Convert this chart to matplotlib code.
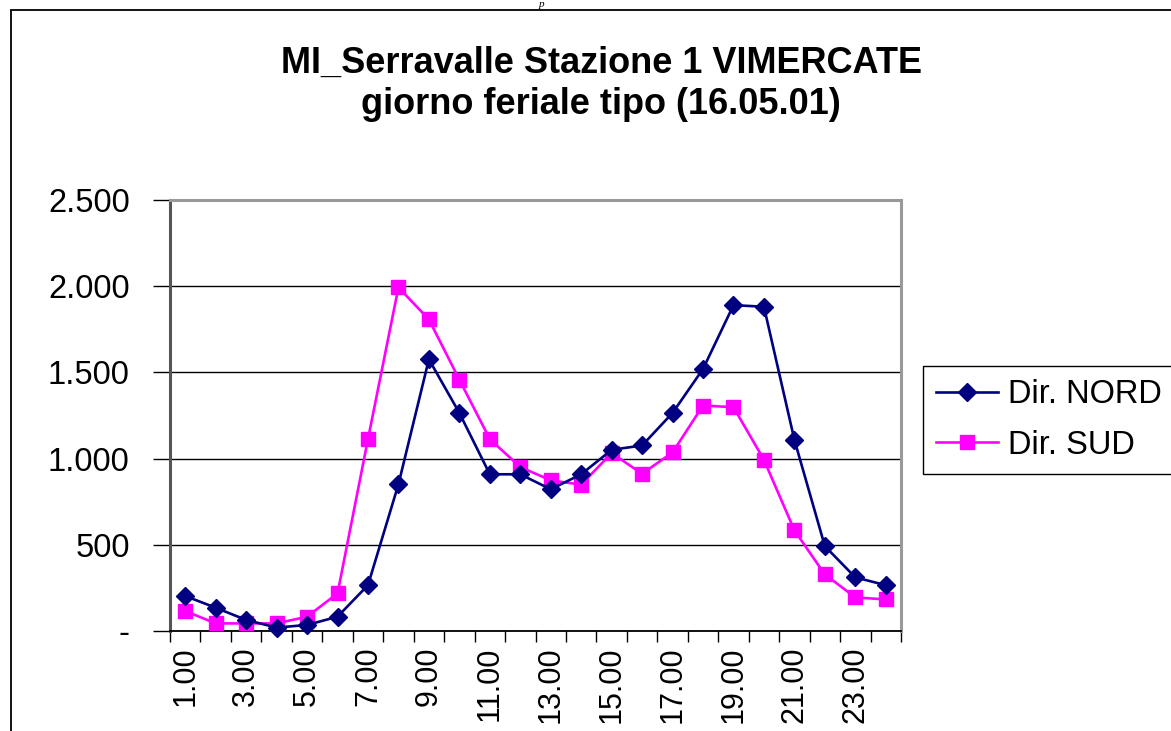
import matplotlib
matplotlib.use("Agg")
import matplotlib.pyplot as plt
from matplotlib.patches import Rectangle
from matplotlib.ticker import FuncFormatter

plt.rcParams["font.family"] = ["Liberation Sans", "DejaVu Sans"]

HOURS = [f"{h}.00" for h in range(1, 25)]
NORD = [203, 135, 64, 20, 35, 83, 266, 851, 1576, 1265, 909, 909,
        822, 909, 1051, 1076, 1265, 1520, 1890, 1881, 1109, 492, 311, 266]
SUD = [116, 44, 44, 44, 83, 218, 1113, 1993, 1807, 1458, 1113, 951,
       874, 849, 1032, 912, 1036, 1308, 1298, 993, 584, 328, 195, 183]
TITLE = "MI_Serravalle Stazione 1 VIMERCATE\ngiorno feriale tipo (16.05.01)"

W, H = 1171, 731
fig = plt.figure(figsize=(W / 100, H / 100), dpi=100)

# outer chart frame (cut off at right and bottom)
fig.patches.append(Rectangle((11 / W, -0.1), 1.2, 1 - 10 / H + 0.1,
                             transform=fig.transFigure, fill=False,
                             edgecolor="black", linewidth=1.3))
fig.text(541 / W, 1.0, "p", style="italic", fontsize=8, ha="center", va="top",
         family=["Liberation Serif", "DejaVu Serif"])

ax = fig.add_axes([170 / W, 1 - 631 / H, (901 - 170) / W, (631 - 200) / H])
x = list(range(len(HOURS)))
ax.plot(x, NORD, color="#000080", linewidth=1.9, marker="D", markersize=9.5,
        label="Dir. NORD", clip_on=False, zorder=4)
ax.plot(x, SUD, color="#FF00FF", linewidth=1.9, marker="s", markersize=10,
        label="Dir. SUD", clip_on=False, zorder=3)

ax.set_xlim(-0.5, len(HOURS) - 0.5)
ax.set_ylim(0, 2500)
ax.set_yticks(range(0, 2501, 500))
ax.yaxis.set_major_formatter(FuncFormatter(
    lambda v, p: "-" if v == 0 else f"{int(v):,}".replace(",", ".")))
ax.grid(axis="y", color="black", linewidth=1.0)
ax.set_axisbelow(True)
ax.tick_params(axis="y", length=12, width=1.0, pad=17, labelsize=23.5, direction="out")

# category boundaries as major ticks, labels on every other category
ax.set_xticks([i - 0.5 for i in range(len(HOURS) + 1)])
ax.set_xticklabels([])
ax.set_xticks(x[::2], minor=True)
ax.set_xticklabels(HOURS[::2], minor=True, rotation=90)
ax.tick_params(axis="x", which="major", length=8, width=1.0, direction="out")
ax.tick_params(axis="x", which="minor", length=0, pad=11, labelsize=22)

ax.spines["left"].set_color("#555555")
ax.spines["left"].set_linewidth(2.2)
ax.spines["bottom"].set_color("black")
ax.spines["bottom"].set_linewidth(1.3)
for s in ("top", "right"):
    ax.spines[s].set_color("#999999")
    ax.spines[s].set_linewidth(2.2)

fig.text(601 / W, 1 - 84 / H, TITLE, ha="center", va="center", fontsize=26,
         fontweight="bold", linespacing=1.22)

leg = ax.legend(loc="upper left", bbox_to_anchor=(923 / W, 1 - 366 / H),
                bbox_transform=fig.transFigure, fontsize=23.5, frameon=True,
                fancybox=False, framealpha=1, edgecolor="black",
                handlelength=1.9, handletextpad=0.3, borderpad=0.4,
                labelspacing=0.6, borderaxespad=0)
leg.get_frame().set_linewidth(1.0)

fig.savefig("out.png", dpi=100)
